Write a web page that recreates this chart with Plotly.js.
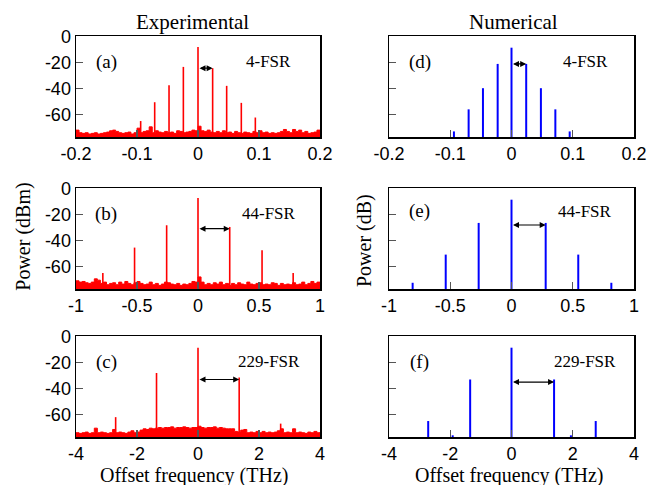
<!DOCTYPE html>
<html>
<head>
<meta charset="utf-8">
<script src="https://cdn.plot.ly/plotly-3.0.1.min.js"></script>
<style>html,body{margin:0;padding:0;background:#fff}#chart{width:647px;height:485px}</style>
</head>
<body>
<div id="chart"></div>
<script>
// ---------- data ----------
// Experimental comb lines (THz, dBm)
const PEAK_A_X = [-0.094, -0.071, -0.0475, -0.024, 0, 0.024, 0.047, 0.071, 0.094];
const PEAK_A_Y = [-65, -50.5, -37.4, -23.3, -7.9, -24.3, -37.9, -51, -62.3];
const PEAK_B_X = [-0.78, -0.52, -0.257, 0, 0.26, 0.525, 0.78];
const PEAK_B_Y = [-65, -45.4, -28.2, -7.2, -29.5, -47.4, -65];
const PEAK_C_X = [-2.7, -1.36, 0, 1.35, 2.71];
const PEAK_C_Y = [-62, -28, -8.5, -31.5, -67];

// Experimental noise floor (dBm), sampled on a regular grid across each panel
const NOISE_A_START = -0.2, NOISE_A_STEP = 0.005;
const NOISE_A = [-72,-74,-74.5,-74,-75,-74.5,-74,-75,-74.5,-74,
  -73.5,-72.5,-72,-73,-74,-74.5,-74,-73.5,-75,-74,
  -70.5,-74,-73,-72.5,-69.5,-74,-72.5,-73.5,-74,-73,
  -74,-73.5,-74.5,-72.5,-73,-74,-73.5,-73,-72,-72.5,
  -69,
  -72.5,-73,-72,-73.5,-74,-73,-74,-72.5,-74,-73.5,
  -74.5,-73,-74,-74.5,-73.5,-74,-74.5,-73,-74,-72.5,
  -74,-73.5,-74.5,-74,-74.5,-74,-73,-71.5,-73,-74,
  -71.5,-73,-72,-74,-73,-74.5,-74,-73.5,-72,-74];
const NOISE_B_START = -1, NOISE_B_STEP = 0.025;
const NOISE_B = [-71,-72,-71.5,-72.5,-73,-72,-69.5,-70.5,-73,-72,
  -74,-73,-72.5,-74,-72,-73.5,-71.5,-73,-74,-72.5,
  -71.5,-73,-74,-73.5,-72,-74,-73,-74.5,-73.5,-72,
  -72.5,-73.5,-74,-73,-74.5,-73.5,-74,-73,-71.5,-72,
  -68,
  -72,-74,-73,-74,-72.5,-73.5,-72,-74,-73,-74.5,
  -73,-74,-72.5,-73.5,-74,-72,-73.5,-74,-73,-72.5,
  -74,-73.5,-74,-72.5,-73,-74.5,-73,-74,-73.5,-74,
  -72.5,-74,-73.5,-72,-74,-73,-71.5,-73,-72,-74];
const NOISE_C_START = -4, NOISE_C_STEP = 0.1;
const NOISE_C = [-74,-74.5,-74,-73.5,-74.5,-74,-70.5,-74,-73.5,-74,
  -74.5,-74,-71.5,-74,-73.5,-74,-74.5,-73.5,-72.5,-74,
  -73.5,-72,-71,-71.5,-70.5,-71,-70.5,-70,-70.5,-70,
  -70,-69.5,-70.5,-70,-70,-69.5,-70,-70.5,-70,-70,
  -69,
  -70,-70.5,-70,-70,-69.5,-70.5,-70,-70.5,-71,-71,
  -71,-73,-73.5,-72,-71.5,-74,-73.5,-74,-73,-74,
  -73,-74,-73.5,-74,-73.5,-72.5,-71,-74,-73.5,-74,
  -71,-74,-73.5,-74,-74.5,-73.5,-74,-73,-74,-73.5];

// Numerical comb lines (THz, dB)
const PEAK_D_X = [-0.094, -0.070, -0.0466, -0.0226, 0, 0.024, 0.048, 0.0716, 0.095];
const PEAK_D_Y = [-73, -56, -39.7, -21, -8.5, -21, -39.7, -56, -73];
const PEAK_E_X = [-0.807, -0.537, -0.268, 0, 0.279, 0.545, 0.815];
const PEAK_E_Y = [-72.5, -50.8, -26.4, -8.5, -26.4, -50.8, -72.5];
const PEAK_F_X = [-2.72, -1.92, -1.35, 0, 1.39, 1.94, 2.75];
const PEAK_F_Y = [-65, -76, -33, -8.5, -33, -76, -65];

// Arrow heights (dB) and labels
const ARROW_Y = [-24.3, -30.8, -33, -21, -28, -35];
const PANEL_LABELS = ['(a)', '(b)', '(c)', '(d)', '(e)', '(f)'];
const FSR_LABELS = ['4-FSR', '44-FSR', '229-FSR', '4-FSR', '44-FSR', '229-FSR'];

// Axis ticks
const X_TICKS_1 = [-0.2, -0.1, 0, 0.1, 0.2];
const X_LABELS_1 = ['-0.2', '-0.1', '0', '0.1', '0.2'];
const X_TICKS_2 = [-1, -0.5, 0, 0.5, 1];
const X_LABELS_2 = ['-1', '-0.5', '0', '0.5', '1'];
const X_TICKS_3 = [-4, -2, 0, 2, 4];
const X_LABELS_3 = ['-4', '-2', '0', '2', '4'];
const Y_TICKS = [-60, -40, -20, 0];
const Y_LABELS = ['-60', '-40', '-20', '0'];
const FLOOR = -80;

// ---------- build ----------
const RED = '#ff0000', BLUE = '#0000ff';
const SERIF = 'Liberation Serif, Times New Roman, serif';
const SANS = 'Liberation Sans, Arial, sans-serif';

function stems(xs, ys) {
  const x = [], y = [];
  xs.forEach((v, i) => { x.push(v, v, null); y.push(FLOOR, ys[i], null); });
  return {x, y};
}
function noiseX(start, step, n) { const a = []; for (let i = 0; i < n; i++) a.push(start + i * step); return a; }

const traces = [];
function addExperimental(ax, peaksX, peaksY, nStart, nStep, noise, xr) {
  const xa = 'x' + ax, ya = 'y' + ax;
  traces.push({x: [xr[0], xr[xr.length - 1]], y: [FLOOR, FLOOR], xaxis: xa, yaxis: ya, mode: 'lines',
    line: {width: 0, color: RED}, hoverinfo: 'skip', showlegend: false});
  traces.push({x: noiseX(nStart, nStep, noise.length), y: noise, xaxis: xa, yaxis: ya, mode: 'lines',
    line: {width: 1, color: RED, shape: 'hv'}, fill: 'tonexty', fillcolor: RED, showlegend: false});
  const s = stems(peaksX, peaksY);
  traces.push({x: s.x, y: s.y, xaxis: xa, yaxis: ya, mode: 'lines', line: {width: 1.6, color: RED}, showlegend: false});
}
function addNumerical(ax, peaksX, peaksY) {
  const s = stems(peaksX, peaksY);
  traces.push({x: s.x, y: s.y, xaxis: 'x' + ax, yaxis: 'y' + ax, mode: 'lines', line: {width: 2, color: BLUE}, showlegend: false});
}
addExperimental('', PEAK_A_X, PEAK_A_Y, NOISE_A_START, NOISE_A_STEP, NOISE_A, X_TICKS_1);
addExperimental('2', PEAK_B_X, PEAK_B_Y, NOISE_B_START, NOISE_B_STEP, NOISE_B, X_TICKS_2);
addExperimental('3', PEAK_C_X, PEAK_C_Y, NOISE_C_START, NOISE_C_STEP, NOISE_C, X_TICKS_3);
addNumerical('4', PEAK_D_X, PEAK_D_Y);
addNumerical('5', PEAK_E_X, PEAK_E_Y);
addNumerical('6', PEAK_F_X, PEAK_F_Y);

const W = 647, H = 485;
const XDOM_L = [76 / W, 320 / W], XDOM_R = [389 / W, 634 / W];
const YDOM = [[1 - 137 / H, 1 - 36 / H], [1 - 289 / H, 1 - 188 / H], [1 - 437 / H, 1 - 336 / H]];

function xAxis(dom, anchor, ticks, labels) {
  return {domain: dom, anchor: anchor, range: [ticks[0], ticks[ticks.length - 1]], tickmode: 'array',
    tickvals: ticks, ticktext: labels, ticks: 'inside', ticklen: 7, tickwidth: 1.2, tickcolor: '#555',
    showline: true, mirror: true, linecolor: '#000', linewidth: 1.5, showgrid: false, zeroline: false,
    tickfont: {family: SANS, size: 18, color: '#000'}, fixedrange: true};
}
function yAxis(dom, anchor, showLabels) {
  return {domain: dom, anchor: anchor, range: [-77.3, 0.5], tickmode: 'array', tickvals: Y_TICKS, ticktext: Y_LABELS,
    ticks: 'inside', ticklen: 7, tickwidth: 1.2, tickcolor: '#555', showticklabels: showLabels,
    showline: true, mirror: true, linecolor: '#000', linewidth: 1.5, showgrid: false, zeroline: false,
    tickfont: {family: SANS, size: 18, color: '#000'}, fixedrange: true};
}

const layout = {
  width: W, height: H, margin: {l: 0, r: 0, t: 0, b: 0}, paper_bgcolor: '#fff', plot_bgcolor: '#fff',
  showlegend: false,
  xaxis: xAxis(XDOM_L, 'y', X_TICKS_1, X_LABELS_1), yaxis: yAxis(YDOM[0], 'x', true),
  xaxis2: xAxis(XDOM_L, 'y2', X_TICKS_2, X_LABELS_2), yaxis2: yAxis(YDOM[1], 'x2', true),
  xaxis3: xAxis(XDOM_L, 'y3', X_TICKS_3, X_LABELS_3), yaxis3: yAxis(YDOM[2], 'x3', true),
  xaxis4: xAxis(XDOM_R, 'y4', X_TICKS_1, X_LABELS_1), yaxis4: yAxis(YDOM[0], 'x4', false),
  xaxis5: xAxis(XDOM_R, 'y5', X_TICKS_2, X_LABELS_2), yaxis5: yAxis(YDOM[1], 'x5', false),
  xaxis6: xAxis(XDOM_R, 'y6', X_TICKS_3, X_LABELS_3), yaxis6: yAxis(YDOM[2], 'x6', false),
  annotations: []
};

const ann = layout.annotations;
const axNames = ['', '2', '3', '4', '5', '6'];
const peakSets = [PEAK_A_X, PEAK_B_X, PEAK_C_X, PEAK_D_X, PEAK_E_X, PEAK_F_X];
const labelPos = [[0.123, 0.745, 0.79], [0.123, 0.745, 0.79], [0.123, 0.745, 0.79],
                  [0.125, 0.745, 0.80], [0.125, 0.77, 0.80], [0.125, 0.745, 0.80]];
axNames.forEach((a, i) => {
  const xs = peakSets[i];
  const c = xs.indexOf(0);
  const r = c + 1;
  ann.push({xref: 'x' + a, yref: 'y' + a, axref: 'x' + a, ayref: 'y' + a,
    x: xs[r], y: ARROW_Y[i], ax: xs[c], ay: ARROW_Y[i], text: '', showarrow: true,
    arrowhead: 2, startarrowhead: 2, arrowside: 'end+start', arrowsize: 1, startarrowsize: 1,
    arrowwidth: 1.2, arrowcolor: '#000', standoff: 0, startstandoff: 0});
  ann.push({xref: 'x' + a + ' domain', yref: 'y' + a + ' domain', x: labelPos[i][0], y: labelPos[i][1],
    text: PANEL_LABELS[i], showarrow: false, xanchor: 'center', yanchor: 'middle',
    font: {family: SERIF, size: 19, color: '#000'}});
  ann.push({xref: 'x' + a + ' domain', yref: 'y' + a + ' domain', x: labelPos[i][2], y: labelPos[i][1],
    text: FSR_LABELS[i], showarrow: false, xanchor: 'center', yanchor: 'middle',
    font: {family: SERIF, size: 17, color: '#000'}});
});
const titleFont = {family: SERIF, size: 20, color: '#000'};
ann.push({xref: 'paper', yref: 'paper', x: 192.5 / W, y: 1 - 21.7 / H, text: 'Experimental', showarrow: false,
  xanchor: 'center', yanchor: 'middle', font: {family: SERIF, size: 21, color: '#000'}});
ann.push({xref: 'paper', yref: 'paper', x: 513 / W, y: 1 - 21.7 / H, text: 'Numerical', showarrow: false,
  xanchor: 'center', yanchor: 'middle', font: {family: SERIF, size: 21, color: '#000'}});
ann.push({xref: 'paper', yref: 'paper', x: 22.7 / W, y: 1 - 237 / H, text: 'Power (dBm)', showarrow: false,
  textangle: -90, xanchor: 'center', yanchor: 'middle', font: titleFont});
ann.push({xref: 'paper', yref: 'paper', x: 364 / W, y: 1 - 240 / H, text: 'Power (dB)', showarrow: false,
  textangle: -90, xanchor: 'center', yanchor: 'middle', font: titleFont});
ann.push({xref: 'paper', yref: 'paper', x: 193.7 / W, y: 1 - 475 / H, text: 'Offset frequency (THz)', showarrow: false,
  xanchor: 'center', yanchor: 'middle', font: titleFont});
ann.push({xref: 'paper', yref: 'paper', x: 509 / W, y: 1 - 475 / H, text: 'Offset frequency (THz)', showarrow: false,
  xanchor: 'center', yanchor: 'middle', font: titleFont});

Plotly.newPlot('chart', traces, layout, {displayModeBar: false, staticPlot: true});
</script>
</body>
</html>
